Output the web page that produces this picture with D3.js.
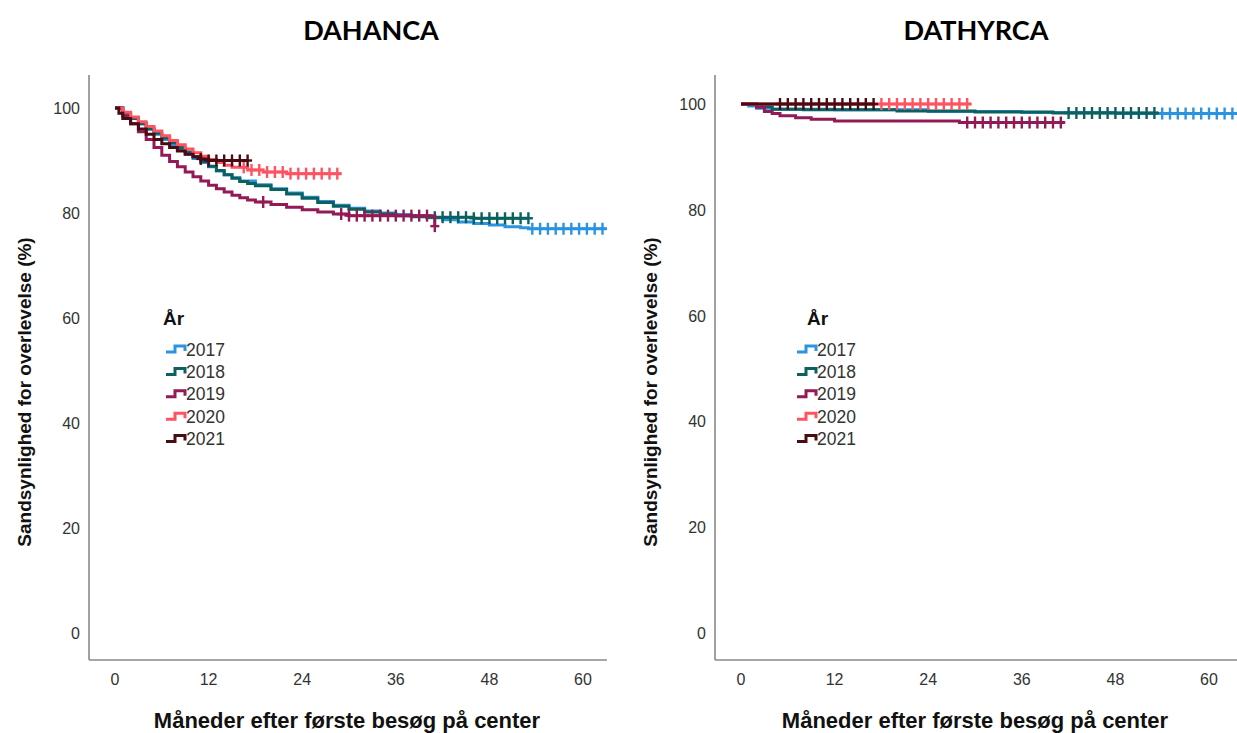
<!DOCTYPE html>
<html>
<head>
<meta charset="utf-8">
<script src="https://cdn.jsdelivr.net/npm/d3@7"></script>
<style>
	body { margin: 0; background: #fff; }
	svg { display: block; }
	.tick-label { font-family: "Liberation Sans", Arial, sans-serif; font-size: 16px; fill: #333; }
	.axis-title { font-family: "Liberation Sans", Arial, sans-serif; font-size: 22px; font-weight: bold; fill: #111; }
	.y-title { font-family: "Liberation Sans", Arial, sans-serif; font-size: 19px; font-weight: bold; fill: #111; }
	.panel-title { font-family: Lato, "Open Sans", sans-serif; font-size: 27px; font-weight: 700; fill: #000; }
	.legend-head { font-family: "Liberation Sans", Arial, sans-serif; font-size: 19px; font-weight: bold; fill: #111; }
	.legend-text { font-family: "Liberation Sans", Arial, sans-serif; font-size: 17.5px; fill: #333; }
</style>
</head>
<body>
<svg id="chart" width="1237" height="733"></svg>
<script>

// ---- data ----
var years = ["2017", "2018", "2019", "2020", "2021"];
var xTickValues = [0, 12, 24, 36, 48, 60];
var yTickValues = [0, 20, 40, 60, 80, 100];

// DAHANCA: [month, survival %]
var dahanca2017 = [[0,100],[1,99],[2,98],[3,97],[4,96],[5,95],[6,94],[7,93],[8,92],[9,91.2],[10,90.4],[11,89.6],[12,88.8],[13,88],[14,87.3],[15,86.7],[16,86.1],[18,85.4],[20,84.6],[22,83.8],[24,83],[26,82.2],[28,81.5],[30,80.9],[32,80.4],[34,80],[36,79.7],[38,79.4],[40,79.1],[42,78.7],[44,78.3],[46,78],[48,77.7],[50,77.4],[52,77.2],[53,77],[63,77]];
var dahanca2018 = [[0,100],[1,99],[2,98],[3,97],[4,96],[5,95.2],[6,94.3],[7,93.4],[8,92.5],[9,91.6],[10,90.7],[11,89.8],[12,88.9],[13,88.1],[14,87.3],[15,86.6],[16,86],[17,85.6],[18,85.2],[20,84.5],[22,83.6],[24,82.8],[26,82],[28,81.3],[30,80.7],[32,80.2],[34,79.8],[36,79.5],[38,79.3],[40,79.2],[46,79],[53,79]];
var dahanca2019 = [[0,100],[1,98.5],[2,97],[3,95.5],[4,94],[5,92.5],[6,91],[7,89.8],[8,88.8],[9,87.8],[10,86.9],[11,86.1],[12,85.3],[13,84.6],[14,84],[15,83.4],[16,82.9],[17,82.5],[18,82.1],[20,81.6],[22,81.1],[24,80.6],[26,80.2],[28,79.8],[30,79.5],[41,77.5],[41,77.5]];
var dahanca2020 = [[0,100],[1,99.2],[2,98.3],[3,97.4],[4,96.5],[5,95.6],[6,94.7],[7,93.8],[8,93],[9,92.2],[10,91.5],[11,90.8],[12,90.2],[13,89.6],[14,89.1],[15,88.7],[17,88.2],[19,87.8],[22,87.5],[29,87.5]];
var dahanca2021 = [[0,100],[0.5,99],[1,98],[2,97],[3,96],[4,95],[5,94],[6,93.2],[7,92.5],[8,91.8],[9,91.2],[10,90.7],[11,90.3],[12,90],[17,90]];

var dahancaCensor2017 = [53.5,54.5,55.5,56.5,57.5,58.5,59.5,60.5,61.5,62.5];
var dahancaCensor2018 = [41,42,43,44,45,46,47,48,49,50,51,52,53];
var dahancaCensor2019 = [19,29,30,31,32,33,34,35,36,37,38,39,40,41];
var dahancaCensor2020 = [16.5,17.5,18.5,19.5,20.5,21.5,22.5,23.5,24.5,25.5,26.5,27.5,28.5];
var dahancaCensor2021 = [11,12,13,14,15,16,17];

// DATHYRCA: [month, survival %]
var dathyrca2017 = [[0,100],[1,99.6],[2,99.2],[4,99],[12,98.9],[24,98.6],[36,98.4],[48,98.2],[63.6,98.2]];
var dathyrca2018 = [[0,100],[2,99.5],[4,99],[8,98.9],[20,98.7],[30,98.5],[40,98.3],[53.5,98.3]];
var dathyrca2019 = [[0,100],[2,99.4],[3,98.6],[4,98.2],[5,97.8],[7,97.4],[9,97.1],[12,96.8],[28,96.5],[41.5,96.5]];
var dathyrca2020 = [[0,100],[29.5,100]];
var dathyrca2021 = [[0,100],[17,100]];

var dathyrcaCensor2017 = [54,55,56,57,58,59,60,61,62,63];
var dathyrcaCensor2018 = [42,43,44,45,46,47,48,49,50,51,52,53];
var dathyrcaCensor2019 = [29,30,31,32,33,34,35,36,37,38,39,40,41];
var dathyrcaCensor2020 = [18,19,20,21,22,23,24,25,26,27,28,29];
var dathyrcaCensor2021 = [5,6,7,8,9,10,11,12,13,14,15,16,17];

var yearColors = ["#2a93e2", "#0b615f", "#931a55", "#ff5362", "#4a0b12"];

var svg = d3.select("#chart");

/**
 * value of the step function at month t
 */
function survivalAt(series, t)
{
	var v = series[0][1];
	series.forEach(function(p) { if (p[0] <= t) v = p[1]; });
	return v;
}

/**
 * draws one Kaplan-Meier panel.
 */
function drawPanel(cfg)
{
	var x = d3.scaleLinear().domain([0, 60]).range([cfg.x0, cfg.x60]);
	var y = d3.scaleLinear().domain([0, 100]).range([cfg.y0, cfg.y100]);

	var g = svg.append("g");

	// axis lines
	g.append("line")
		.attr("x1", cfg.axisLeft).attr("x2", cfg.axisLeft)
		.attr("y1", cfg.axisTop).attr("y2", cfg.axisBottom)
		.attr("stroke", "#8a8a8a").attr("stroke-width", 1.6);
	g.append("line")
		.attr("x1", cfg.axisLeft).attr("x2", cfg.axisRight)
		.attr("y1", cfg.axisBottom).attr("y2", cfg.axisBottom)
		.attr("stroke", "#8a8a8a").attr("stroke-width", 1.6);

	// tick labels
	g.selectAll(".xt").data(xTickValues).enter().append("text")
		.attr("class", "tick-label")
		.attr("x", function(d) { return x(d); })
		.attr("y", cfg.axisBottom + 25)
		.attr("text-anchor", "middle")
		.text(function(d) { return d; });

	g.selectAll(".yt").data(yTickValues).enter().append("text")
		.attr("class", "tick-label")
		.attr("x", cfg.axisLeft - 9)
		.attr("y", function(d) { return y(d) + 6; })
		.attr("text-anchor", "end")
		.text(function(d) { return d; });

	// titles
	g.append("text")
		.attr("class", "panel-title")
		.attr("x", cfg.titleX).attr("y", 40)
		.attr("text-anchor", "middle")
		.text(cfg.title);

	g.append("text")
		.attr("class", "axis-title")
		.attr("x", cfg.xTitleX).attr("y", 728)
		.attr("text-anchor", "middle")
		.text("Måneder efter første besøg på center");

	g.append("text")
		.attr("class", "y-title")
		.attr("transform", "translate(" + cfg.yTitleX + "," + 392 + ") rotate(-90)")
		.attr("text-anchor", "middle")
		.text("Sandsynlighed for overlevelse (%)");

	// curves
	var line = d3.line()
		.x(function(d) { return x(d[0]); })
		.y(function(d) { return y(d[1]); })
		.curve(d3.curveStepAfter);

	cfg.series.forEach(function(s, i)
	{
		g.append("path")
			.datum(s)
			.attr("fill", "none")
			.attr("stroke", yearColors[i])
			.attr("stroke-width", 3)
			.attr("d", line);

		var marks = g.append("g").selectAll(".cens")
			.data(cfg.censors[i])
			.enter().append("g")
				.attr("transform", function(t) { return "translate(" + x(t) + "," + y(survivalAt(s, t)) + ")"; });

		marks.append("line")
			.attr("x1", 0).attr("x2", 0).attr("y1", -6).attr("y2", 6)
			.attr("stroke", yearColors[i]).attr("stroke-width", 2.4);
		marks.append("line")
			.attr("x1", -4.5).attr("x2", 4.5).attr("y1", 0).attr("y2", 0)
			.attr("stroke", yearColors[i]).attr("stroke-width", 2.4);
	});

	// legend
	var lg = svg.append("g").attr("transform", "translate(" + cfg.legendX + "," + 0 + ")");
	lg.append("text").attr("class", "legend-head").attr("x", cfg.legendHeadDx).attr("y", 325).text("År");

	var items = lg.selectAll(".item").data(years).enter().append("g")
		.attr("transform", function(d, i) { return "translate(0," + (349 + i * 22.4) + ")"; });
	items.append("path")
		.attr("d", "M0,3H9V-3H19V2")
		.attr("fill", "none")
		.attr("stroke", function(d, i) { return yearColors[i]; })
		.attr("stroke-width", 3);
	items.append("text")
		.attr("class", "legend-text")
		.attr("x", 20).attr("y", 6.5)
		.text(function(d) { return d; });
}

drawPanel({
	title: "DAHANCA", titleX: 371, xTitleX: 347, yTitleX: 31,
	x0: 115, x60: 583, y0: 633, y100: 108,
	axisLeft: 89, axisRight: 607, axisTop: 75, axisBottom: 660,
	legendX: 166, legendHeadDx: -3,
	series: [dahanca2017, dahanca2018, dahanca2019, dahanca2020, dahanca2021],
	censors: [dahancaCensor2017, dahancaCensor2018, dahancaCensor2019, dahancaCensor2020, dahancaCensor2021]
});

drawPanel({
	title: "DATHYRCA", titleX: 976, xTitleX: 975, yTitleX: 657,
	x0: 741, x60: 1209, y0: 633, y100: 104,
	axisLeft: 715, axisRight: 1237, axisTop: 75, axisBottom: 660,
	legendX: 797, legendHeadDx: 10,
	series: [dathyrca2017, dathyrca2018, dathyrca2019, dathyrca2020, dathyrca2021],
	censors: [dathyrcaCensor2017, dathyrcaCensor2018, dathyrcaCensor2019, dathyrcaCensor2020, dathyrcaCensor2021]
});

</script>
</body>
</html>
